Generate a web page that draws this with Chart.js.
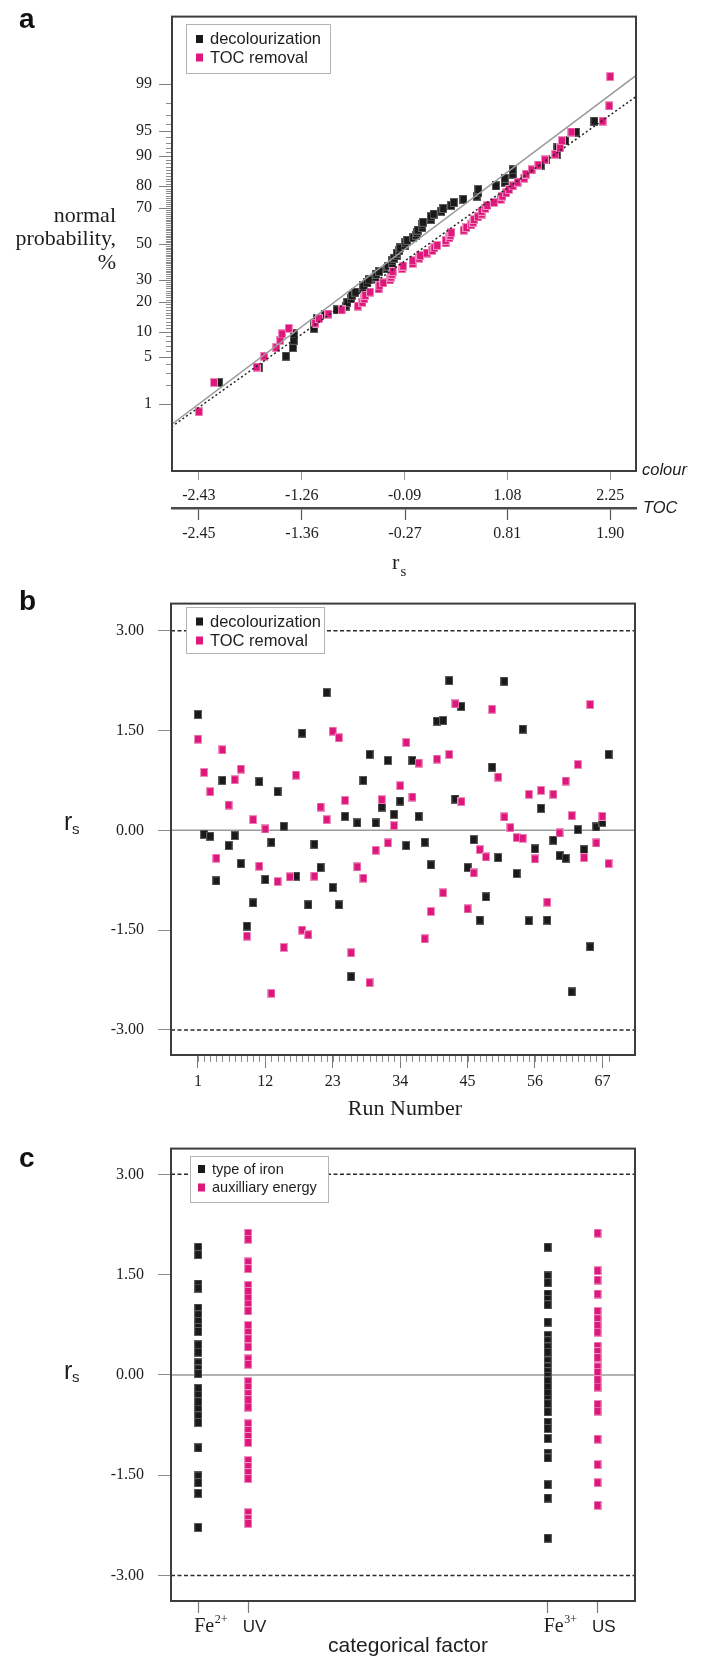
<!DOCTYPE html>
<html>
<head>
<meta charset="utf-8">
<script src="https://cdn.jsdelivr.net/npm/chart.js@4.4.1/dist/chart.umd.min.js"></script>
<style>
  html, body { margin: 0; padding: 0; background: #fff; }
  body { width: 703px; height: 1658px; position: relative; overflow: hidden; }
  canvas { position: absolute; left: 0; }
</style>
</head>
<body>
<canvas id="panelA" width="703" height="590" style="top:0px"></canvas>
<canvas id="panelB" width="703" height="545" style="top:580px"></canvas>
<canvas id="panelC" width="703" height="533" style="top:1125px"></canvas>
<script>
// ---------------- data ----------------
const runNumbers = [1,2,3,4,5,6,7,8,9,10,11,12,13,14,15,16,17,18,19,20,21,22,23,24,25,26,27,28,29,30,31,32,33,34,
  35,36,37,38,39,40,41,42,43,44,45,46,47,48,49,50,51,52,53,54,55,56,57,58,59,60,61,62,63,64,65,66,67,68];

// standardized residuals per run
const decolourization = [1.74,-0.06,-0.09,-0.76,0.75,-0.23,-0.08,-0.50,-1.44,-1.09,
  0.73,-0.74,-0.18,0.58,0.06,-0.70,-0.69,1.46,-1.12,-0.21,
  -0.56,2.07,-0.86,-1.12,0.21,-2.20,0.11,0.75,1.14,0.11,
  0.35,1.05,0.24,0.44,-0.23,1.05,0.21,-0.18,-0.52,1.64,
  1.65,2.25,0.47,1.86,-0.56,-0.14,-1.35,-1.00,0.95,-0.41,
  2.24,0.04,-0.65,1.52,-1.36,-0.28,0.33,-1.35,-0.15,-0.38,
  -0.42,-2.43,0.01,-0.29,-1.75,0.05,0.12,1.14];
const tocRemoval = [1.37,0.87,0.58,-0.42,1.21,0.38,0.76,0.92,-1.59,0.16,
  -0.54,0.02,-2.45,-0.77,-1.76,-0.70,0.83,-1.50,-1.57,-0.69,
  0.35,0.16,1.49,1.39,0.45,-1.84,-0.55,-0.72,-2.29,-0.30,
  0.46,-0.19,0.07,0.67,1.32,0.50,1.01,-1.63,-1.22,1.07,
  -0.94,1.14,1.90,0.43,-1.18,-0.64,-0.29,-0.40,1.82,0.80,
  0.20,0.04,-0.11,-0.12,0.54,-0.43,0.60,-1.08,0.54,-0.04,
  0.74,0.22,0.99,-0.41,1.89,-0.19,0.21,-0.50];

// cumulative probability (%) of each ranked residual
const plottingPositions = [0.74,2.21,3.68,5.15,6.62,8.09,9.56,11.03,12.50,13.97,
  15.44,16.91,18.38,19.85,21.32,22.79,24.26,25.74,27.21,28.68,
  30.15,31.62,33.09,34.56,36.03,37.50,38.97,40.44,41.91,43.38,
  44.85,46.32,47.79,49.26,50.74,52.21,53.68,55.15,56.62,58.09,
  59.56,61.03,62.50,63.97,65.44,66.91,68.38,69.85,71.32,72.79,
  74.26,75.74,77.21,78.68,80.15,81.62,83.09,84.56,86.03,87.50,
  88.97,90.44,91.91,93.38,94.85,96.32,97.79,99.26];

const probabilityTicks = [1,5,10,20,30,50,70,80,90,95,99];
const colourTicks = [-2.43,-1.26,-0.09,1.08,2.25];
const tocTicks = [-2.45,-1.36,-0.27,0.81,1.90];

// normal reference lines: [r_s, probability %]
const colourFitLine = [[-2.74,0.436],[2.55,99.305]];
const tocFitLine = [[-2.74,0.394],[2.18,98.434]];

const residualTicks = [3,1.5,0,-1.5,-3];
const controlLimits = [3,-3];
const runTicks = [1,12,23,34,45,56,67];

const factorNames = ['Fe','UV','Fe','US'];
const factorCharges = ['2+','','3+',''];
const fe2Residuals = [1.91,1.80,1.36,1.30,1.00,0.90,0.80,0.71,0.65,0.45,0.34,0.18,0.09,0.02,
  -0.20,-0.30,-0.40,-0.51,-0.61,-0.71,-1.09,-1.51,-1.61,-1.77,-2.28];
const uvResiduals = [2.12,2.03,1.69,1.59,1.34,1.25,1.15,1.06,0.96,0.74,0.64,0.54,0.42,0.24,0.16,
  -0.10,-0.18,-0.28,-0.37,-0.48,-0.73,-0.83,-0.92,-1.01,-1.28,-1.37,-1.46,-1.55,-2.06,-2.15,-2.22];
const fe3Residuals = [1.91,1.48,1.38,1.21,1.13,1.05,0.79,0.59,0.51,0.42,0.34,0.21,0.12,0.05,
  -0.02,-0.09,-0.18,-0.27,-0.36,-0.43,-0.55,-0.71,-0.80,-0.95,-1.17,-1.24,-1.64,-1.84,-2.44];
const usResiduals = [2.12,1.56,1.42,1.21,0.95,0.84,0.74,0.64,0.43,0.35,0.26,0.12,0.04,-0.07,-0.18,
  -0.44,-0.54,-0.96,-1.34,-1.61,-1.95];

// ---------------- helpers ----------------
const SERIF = '"Liberation Serif", "Times New Roman", serif';
const SANS = '"Liberation Sans", Arial, sans-serif';
const BLACK = '#1b1a1a';
const PINK = '#de177c';

// inverse of the standard normal CDF (Acklam)
function probit(p) {
  const a = [-3.969683028665376e+01, 2.209460984245205e+02, -2.759285104469687e+02, 1.383577518672690e+02, -3.066479806614716e+01, 2.506628277459239e+00];
  const b = [-5.447609879822406e+01, 1.615858368580409e+02, -1.556989798598866e+02, 6.680131188771972e+01, -1.328068155922919e+01];
  const c = [-7.784894002430293e-03, -3.223964580411365e-01, -2.400758277161838e+00, -2.549732539343734e+00, 4.374664141464968e+00, 2.938163982698783e+00];
  const d = [7.784695709041462e-03, 3.224671290700398e-01, 2.445134137142996e+00, 3.754408661907416e+00];
  const lo = 0.02425, hi = 1 - lo;
  let q, r;
  if (p < lo) {
    q = Math.sqrt(-2 * Math.log(p));
    return (((((c[0]*q+c[1])*q+c[2])*q+c[3])*q+c[4])*q+c[5]) / ((((d[0]*q+d[1])*q+d[2])*q+d[3])*q+1);
  }
  if (p <= hi) {
    q = p - 0.5; r = q * q;
    return (((((a[0]*r+a[1])*r+a[2])*r+a[3])*r+a[4])*r+a[5])*q / (((((b[0]*r+b[1])*r+b[2])*r+b[3])*r+b[4])*r+1);
  }
  q = Math.sqrt(-2 * Math.log(1 - p));
  return -(((((c[0]*q+c[1])*q+c[2])*q+c[3])*q+c[4])*q+c[5]) / ((((d[0]*q+d[1])*q+d[2])*q+d[3])*q+1);
}

function squareMarker(fill, edge) {
  const cv = document.createElement('canvas');
  cv.width = 8; cv.height = 9;
  const g = cv.getContext('2d');
  g.fillStyle = edge; g.fillRect(0, 0, 8, 9);
  g.fillStyle = fill; g.fillRect(1, 1, 6, 7);
  return cv;
}
const blackMarker = squareMarker(BLACK, '#5c5c5c');
const pinkMarker = squareMarker(PINK, '#ee8fbd');

// ticks are placed exactly on the supplied values
function fixedTicks(values) {
  return axis => { axis.ticks = values.map(v => ({ value: v })); };
}

// frame, minor ticks, boxed legend and free texts
const panelDecor = {
  id: 'panelDecor',
  afterDraw(chart, args, opts) {
    const ctx = chart.ctx;
    const area = chart.chartArea;
    ctx.save();
    (opts.minorTicks || []).forEach(m => {
      const scale = chart.scales[m.axis];
      ctx.strokeStyle = m.color; ctx.lineWidth = 1;
      ctx.beginPath();
      m.values.forEach(v => {
        const p = Math.round(scale.getPixelForValue(v)) + 0.5;
        if (scale.isHorizontal()) {
          ctx.moveTo(p, area.bottom); ctx.lineTo(p, area.bottom + m.length);
        } else {
          ctx.moveTo(area.left - m.length, p); ctx.lineTo(area.left, p);
        }
      });
      ctx.stroke();
    });
    // plot frame
    ctx.strokeStyle = '#3d3d3d'; ctx.lineWidth = 2;
    ctx.strokeRect(area.left, area.top, area.right - area.left, area.bottom - area.top);
    // legend
    const lg = opts.legend;
    if (lg) {
      ctx.fillStyle = '#fff';
      ctx.fillRect(lg.x, lg.y, lg.w, lg.h);
      ctx.strokeStyle = '#b4b4b4'; ctx.lineWidth = 1;
      ctx.strokeRect(lg.x + 0.5, lg.y + 0.5, lg.w, lg.h);
      ctx.font = lg.font; ctx.textBaseline = 'middle'; ctx.textAlign = 'left';
      lg.items.forEach((it, i) => {
        const yc = lg.y + lg.rows[i];
        ctx.fillStyle = it.color;
        ctx.fillRect(lg.x + lg.markX, yc - 4, 7, 8);
        ctx.fillStyle = '#1e1e1e';
        ctx.fillText(it.label, lg.x + lg.textX, yc + 0.5);
      });
    }
    // texts
    (opts.texts || []).forEach(t => {
      ctx.font = t.font; ctx.fillStyle = t.color || '#1e1e1e';
      ctx.textAlign = t.align || 'left'; ctx.textBaseline = t.baseline || 'alphabetic';
      ctx.fillText(t.text, t.x, t.y);
    });
    // category labels with superscripts
    if (opts.factorLabels) {
      const f = opts.factorLabels;
      const scale = chart.scales.x;
      ctx.textBaseline = 'alphabetic'; ctx.textAlign = 'left'; ctx.fillStyle = '#1e1e1e';
      f.slots.forEach((slot, i) => {
        const px = scale.getPixelForValue(slot);
        if (factorCharges[i]) {
          ctx.font = '20px ' + SERIF;
          ctx.fillText(factorNames[i], px - 4, f.baseline);
          const w = ctx.measureText(factorNames[i]).width;
          ctx.font = '12px ' + SERIF;
          ctx.fillText(factorCharges[i], px - 4 + w + 0.5, f.baseline - 9);
        } else {
          ctx.font = '17px ' + SANS;
          ctx.fillText(factorNames[i], px - 5.5, f.baseline);
        }
      });
    }
    ctx.restore();
  }
};

function hline(y, x0, x1, color, dash, width) {
  return {
    data: [{ x: x0, y: y }, { x: x1, y: y }],
    showLine: true, pointRadius: 0, borderColor: color, borderWidth: width,
    borderDash: dash, order: 5, clip: false
  };
}

Chart.defaults.font.family = SERIF;
Chart.defaults.color = '#1e1e1e';

const baseOptions = {
  responsive: false,
  animation: false,
  events: [],
};

// ---------------- panel a: normal probability plot ----------------
const colourPoints = [...decolourization].sort((p, q) => p - q)
  .map((v, i) => ({ x: v, y: probit(plottingPositions[i] / 100) }));
const tocPoints = [...tocRemoval].sort((p, q) => p - q)
  .map((v, i) => ({ x: v, y: probit(plottingPositions[i] / 100) }));

const cSpan = colourTicks[4] - colourTicks[0];
const tSpan = tocTicks[4] - tocTicks[0];
const minorPercents = [];
for (let p = 2; p <= 98; p++) if (!probabilityTicks.includes(p)) minorPercents.push(p);

new Chart(document.getElementById('panelA'), {
  type: 'scatter',
  data: {
    datasets: [
      { label: 'decolourization', data: colourPoints, xAxisID: 'x', yAxisID: 'y',
        pointStyle: blackMarker, pointRadius: 4.5, order: 2 },
      { label: 'TOC removal', data: tocPoints, xAxisID: 'xToc', yAxisID: 'y',
        pointStyle: pinkMarker, pointRadius: 4.5, order: 1 },
      { data: colourFitLine.map(d => ({ x: d[0], y: probit(d[1] / 100) })), xAxisID: 'x', yAxisID: 'y',
        showLine: true, pointRadius: 0, borderColor: '#9b9b9b', borderWidth: 1.5, order: 0 },
      { data: tocFitLine.map(d => ({ x: d[0], y: probit(d[1] / 100) })), xAxisID: 'xToc', yAxisID: 'y',
        showLine: true, pointRadius: 0, borderColor: '#222', borderWidth: 1.5, borderDash: [2, 2.5], order: 0 }
    ]
  },
  options: {
    ...baseOptions,
    layout: { padding: { left: 0, right: 67, top: 7, bottom: 45 } },
    plugins: {
      legend: { display: false }, tooltip: { enabled: false },
      panelDecor: {
        minorTicks: [{ axis: 'y', values: minorPercents.map(p => probit(p / 100)), length: 6, color: '#8c8c8c' }],
        legend: { x: 186, y: 24, w: 144, h: 49, markX: 10, textX: 24, rows: [15, 33.5],
          font: '16.5px ' + SANS,
          items: [{ label: 'decolourization', color: BLACK }, { label: 'TOC removal', color: PINK }] },
        texts: [
          { text: 'a', x: 19, y: 28, font: 'bold 28px ' + SANS, color: '#111' },
          { text: 'normal', x: 116, y: 222, font: '22px ' + SERIF, align: 'right' },
          { text: 'probability,', x: 116, y: 245, font: '22px ' + SERIF, align: 'right' },
          { text: '%', x: 116, y: 269, font: '22px ' + SERIF, align: 'right' },
          { text: 'colour', x: 642, y: 470, font: 'italic 16.5px ' + SANS, baseline: 'middle' },
          { text: 'TOC', x: 643, y: 508, font: 'italic 16.5px ' + SANS, baseline: 'middle' },
          { text: 'r', x: 392, y: 569, font: '22px ' + SERIF },
          { text: 's', x: 400.5, y: 576, font: '15px ' + SERIF }
        ]
      }
    },
    scales: {
      y: {
        type: 'linear', position: 'left', min: -3.30, max: 3.31,
        afterBuildTicks: fixedTicks(probabilityTicks.map(p => probit(p / 100))),
        afterFit: s => { s.width = 172; },
        ticks: { callback: (v, i) => String(probabilityTicks[i]), autoSkip: false, padding: 7,
          font: { family: SERIF, size: 16 }, color: '#1e1e1e' },
        grid: { drawOnChartArea: false, drawTicks: true, tickLength: 13, tickColor: '#808080', tickWidth: 1 },
        border: { display: false }
      },
      x: {
        type: 'linear', position: 'bottom', weight: 0,
        min: colourTicks[0] - 0.0654 * cSpan, max: colourTicks[4] + 0.0627 * cSpan,
        afterBuildTicks: fixedTicks(colourTicks),
        afterFit: s => { s.height = 37; },
        ticks: { callback: (v, i) => colourTicks[i].toFixed(2), autoSkip: false, maxRotation: 0, padding: 6,
          font: { family: SERIF, size: 16 }, color: '#1e1e1e' },
        grid: { drawOnChartArea: false, drawTicks: true, tickLength: 9, tickColor: '#9a9a9a', tickWidth: 1 },
        border: { display: false }
      },
      xToc: {
        type: 'linear', position: 'bottom', weight: 1,
        min: tocTicks[0] - 0.0654 * tSpan, max: tocTicks[4] + 0.0627 * tSpan,
        afterBuildTicks: fixedTicks(tocTicks),
        afterFit: s => { s.height = 37; },
        ticks: { callback: (v, i) => tocTicks[i].toFixed(2), autoSkip: false, maxRotation: 0, padding: 4,
          font: { family: SERIF, size: 16 }, color: '#1e1e1e' },
        grid: { drawOnChartArea: false, drawTicks: true, tickLength: 12, tickColor: '#555', tickWidth: 1.2 },
        border: { display: true, width: 2.5, color: '#4a4a4a' }
      }
    }
  },
  plugins: [panelDecor]
});

// ---------------- panel b: residuals vs run number ----------------
const RUN_MIN = -3.40, RUN_MAX = 72.32;
new Chart(document.getElementById('panelB'), {
  type: 'scatter',
  data: {
    datasets: [
      { label: 'decolourization', data: runNumbers.map((r, i) => ({ x: r, y: decolourization[i] })),
        pointStyle: blackMarker, pointRadius: 4.5, order: 2 },
      { label: 'TOC removal', data: runNumbers.map((r, i) => ({ x: r, y: tocRemoval[i] })),
        pointStyle: pinkMarker, pointRadius: 4.5, order: 1 },
      hline(0, RUN_MIN, RUN_MAX, '#9a9a9a', [], 1.5),
      hline(controlLimits[0], RUN_MIN, RUN_MAX, '#2a2a2a', [4, 2.5], 1.5),
      hline(controlLimits[1], RUN_MIN, RUN_MAX, '#2a2a2a', [4, 2.5], 1.5)
    ]
  },
  options: {
    ...baseOptions,
    layout: { padding: { left: 0, right: 68, top: 13, bottom: 30 } },
    plugins: {
      legend: { display: false }, tooltip: { enabled: false },
      panelDecor: {
        minorTicks: [{ axis: 'x', values: runNumbers, length: 7, color: '#8c8c8c' }],
        legend: { x: 186, y: 27, w: 138, h: 46, markX: 10, textX: 24, rows: [14.5, 33.5],
          font: '16.5px ' + SANS,
          items: [{ label: 'decolourization', color: BLACK }, { label: 'TOC removal', color: PINK }] },
        texts: [
          { text: 'b', x: 19, y: 30, font: 'bold 28px ' + SANS, color: '#111' },
          { text: 'r', x: 64, y: 250, font: '25px ' + SANS },
          { text: 's', x: 72, y: 253.5, font: '15px ' + SANS },
          { text: 'Run Number', x: 405, y: 535, font: '22px ' + SERIF, align: 'center' }
        ]
      }
    },
    scales: {
      y: {
        type: 'linear', position: 'left', min: -3.377, max: 3.407,
        afterBuildTicks: fixedTicks(residualTicks),
        afterFit: s => { s.width = 171; },
        ticks: { callback: (v, i) => residualTicks[i].toFixed(2), autoSkip: false, padding: 14,
          font: { family: SERIF, size: 16 } },
        grid: { drawOnChartArea: false, drawTicks: true, tickLength: 13, tickColor: '#8a8a8a', tickWidth: 1 },
        border: { display: false }
      },
      x: {
        type: 'linear', position: 'bottom', min: RUN_MIN, max: RUN_MAX,
        afterBuildTicks: fixedTicks(runTicks),
        afterFit: s => { s.height = 40; },
        ticks: { callback: (v, i) => String(runTicks[i]), autoSkip: false, maxRotation: 0, padding: 4,
          font: { family: SERIF, size: 16 } },
        grid: { drawOnChartArea: false, drawTicks: true, tickLength: 13, tickColor: '#7a7a7a', tickWidth: 1 },
        border: { display: false }
      }
    }
  },
  plugins: [panelDecor]
});

// ---------------- panel c: residuals vs categorical factor ----------------
const FACTOR_SLOTS = [0, 1, 7, 8];
const FAC_MIN = -0.545, FAC_MAX = 8.75;
const column = (values, slot) => values.map(v => ({ x: slot, y: v }));
new Chart(document.getElementById('panelC'), {
  type: 'scatter',
  data: {
    datasets: [
      { label: 'type of iron', data: [...column(fe2Residuals, FACTOR_SLOTS[0]), ...column(fe3Residuals, FACTOR_SLOTS[2])],
        pointStyle: blackMarker, pointRadius: 4.5, order: 2 },
      { label: 'auxilliary energy', data: [...column(uvResiduals, FACTOR_SLOTS[1]), ...column(usResiduals, FACTOR_SLOTS[3])],
        pointStyle: pinkMarker, pointRadius: 4.5, order: 1 },
      hline(0, FAC_MIN, FAC_MAX, '#9a9a9a', [], 1.5),
      hline(controlLimits[0], FAC_MIN, FAC_MAX, '#2a2a2a', [4, 2.5], 1.5),
      hline(controlLimits[1], FAC_MIN, FAC_MAX, '#2a2a2a', [4, 2.5], 1.5)
    ]
  },
  options: {
    ...baseOptions,
    layout: { padding: { left: 0, right: 68, top: 15, bottom: 22 } },
    plugins: {
      legend: { display: false }, tooltip: { enabled: false },
      panelDecor: {
        legend: { x: 190, y: 31, w: 138, h: 46, markX: 8, textX: 22, rows: [13, 31.5],
          font: '14.5px ' + SANS,
          items: [{ label: 'type of iron', color: BLACK }, { label: 'auxilliary energy', color: PINK }] },
        factorLabels: { slots: FACTOR_SLOTS, baseline: 506.5 },
        texts: [
          { text: 'c', x: 19, y: 42, font: 'bold 28px ' + SANS, color: '#111' },
          { text: 'r', x: 64, y: 253.5, font: '25px ' + SANS },
          { text: 's', x: 72, y: 256.5, font: '15px ' + SANS },
          { text: 'categorical factor', x: 408, y: 526.5, font: '21px ' + SANS, align: 'center' }
        ]
      }
    },
    scales: {
      y: {
        type: 'linear', position: 'left', min: -3.38, max: 3.385,
        afterBuildTicks: fixedTicks(residualTicks),
        afterFit: s => { s.width = 171; },
        ticks: { callback: (v, i) => residualTicks[i].toFixed(2), autoSkip: false, padding: 14,
          font: { family: SERIF, size: 16 } },
        grid: { drawOnChartArea: false, drawTicks: true, tickLength: 13, tickColor: '#8a8a8a', tickWidth: 1 },
        border: { display: false }
      },
      x: {
        type: 'linear', position: 'bottom', min: FAC_MIN, max: FAC_MAX,
        afterBuildTicks: fixedTicks(FACTOR_SLOTS),
        afterFit: s => { s.height = 35; },
        ticks: { display: false },
        grid: { drawOnChartArea: false, drawTicks: true, tickLength: 12, tickColor: '#7a7a7a', tickWidth: 1.2 },
        border: { display: false }
      }
    }
  },
  plugins: [panelDecor]
});
</script>
</body>
</html>
